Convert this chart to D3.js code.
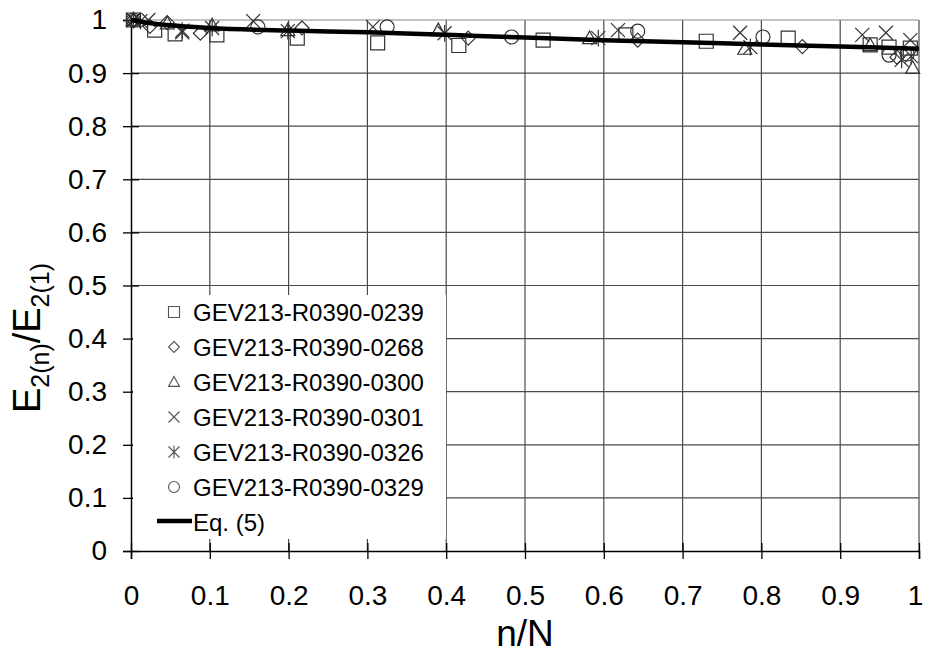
<!DOCTYPE html>
<html>
<head>
<meta charset="utf-8">
<script src="https://cdn.jsdelivr.net/npm/d3@7/dist/d3.min.js"></script>
<style>
  html, body { margin: 0; padding: 0; background: #fff; }
  svg text { font-family: "Liberation Sans", Arial, sans-serif; fill: #000; }
</style>
</head>
<body>
<svg id="chart" width="925" height="655"></svg>
<script>
// Specimen series: [n/N, E2(n)/E2(1)]
const seriesNames = [
  "GEV213-R0390-0239",
  "GEV213-R0390-0268",
  "GEV213-R0390-0300",
  "GEV213-R0390-0301",
  "GEV213-R0390-0326",
  "GEV213-R0390-0329"
];
const seriesSymbols = ["square", "diamond", "triangle", "cross", "asterisk", "circle"];

const s0239 = [[0.003,1.0],[0.030,0.981],[0.056,0.974],[0.109,0.972],[0.211,0.966],[0.313,0.957],
  [0.416,0.952],[0.523,0.962],[0.628,0.972],[0.730,0.960],[0.834,0.966],[0.938,0.953],[0.962,0.949],[0.989,0.947]];
const s0268 = [[0.003,1.0],[0.024,0.988],[0.046,0.995],[0.088,0.975],[0.217,0.985],[0.428,0.966],
  [0.643,0.962],[0.852,0.950],[0.972,0.930]];
const s0300 = [[0.003,1.0],[0.046,0.994],[0.103,0.990],[0.199,0.981],[0.390,0.981],[0.582,0.966],
  [0.779,0.946],[0.938,0.953],[0.992,0.910]];
const s0301 = [[0.003,1.0],[0.022,1.0],[0.065,0.977],[0.155,0.998],[0.307,0.987],[0.618,0.981],
  [0.773,0.976],[0.928,0.972],[0.958,0.976],[0.989,0.962]];
const s0326 = [[0.003,1.0],[0.012,0.998],[0.065,0.980],[0.103,0.985],[0.199,0.979],[0.398,0.975],
  [0.593,0.966],[0.786,0.949],[0.978,0.925],[0.990,0.932]];
const s0329 = [[0.003,1.0],[0.161,0.987],[0.325,0.987],[0.483,0.968],[0.643,0.979],[0.802,0.968],
  [0.962,0.934],[0.985,0.936]];
const seriesData = [s0239, s0268, s0300, s0301, s0326, s0329];

// Eq. (5) model curve
const eqX = [0, 0.02, 0.05, 0.1, 0.2, 0.3, 0.4, 0.5, 0.6, 0.7, 0.8, 0.9, 1.0];
const eqY = [1.0, 0.995, 0.990, 0.985, 0.980, 0.977, 0.972, 0.967, 0.962, 0.958, 0.954, 0.950, 0.946];
const eqLabel = "Eq. (5)";

const xTicks = [0, 0.1, 0.2, 0.3, 0.4, 0.5, 0.6, 0.7, 0.8, 0.9, 1];
const yTicks = [0, 0.1, 0.2, 0.3, 0.4, 0.5, 0.6, 0.7, 0.8, 0.9, 1];

const svg = d3.select("#chart");
const margin = { left: 131, right: 6, top: 20, bottom: 104 };
const W = 925, H = 655;
const x = d3.scaleLinear().domain([0, 1]).range([margin.left, W - margin.right]);
const y = d3.scaleLinear().domain([0, 1]).range([H - margin.bottom, margin.top]);

const grid = svg.append("g");
// vertical grid lines
grid.selectAll("line.v").data(xTicks.slice(1)).enter().append("line")
  .attr("x1", d => x(d)).attr("x2", d => x(d))
  .attr("y1", y(0)).attr("y2", y(1))
  .attr("stroke", "#4a4a4a").attr("stroke-width", 1.2);
// horizontal grid lines
grid.selectAll("line.h").data(yTicks.slice(1)).enter().append("line")
  .attr("x1", x(0)).attr("x2", x(1))
  .attr("y1", d => y(d)).attr("y2", d => y(d))
  .attr("stroke", d => d === 1 ? "#888" : "#4a4a4a").attr("stroke-width", 1.2);

// axes
const fmt = d => d === 0 ? "0" : d === 1 ? "1" : d3.format(".1f")(d);
const xAxis = svg.append("g").attr("transform", `translate(0,${y(0)})`)
  .call(d3.axisBottom(x).tickValues(xTicks).tickFormat(fmt).tickSize(8).tickPadding(26));
const yAxis = svg.append("g").attr("transform", `translate(${x(0)},0)`)
  .call(d3.axisLeft(y).tickValues(yTicks).tickFormat(fmt).tickSize(8).tickPadding(16));
[xAxis, yAxis].forEach(a => {
  a.select(".domain").attr("stroke", "#000").attr("stroke-width", 1.5);
  a.selectAll(".tick line").attr("stroke", "#000").attr("stroke-width", 1.3);
  a.selectAll(".tick text").attr("font-size", 28).attr("fill", "#000")
    .attr("font-family", "'Liberation Sans', Arial, sans-serif");
});
// keep the last x label inside the canvas edge
xAxis.selectAll(".tick text").filter(d => d === 1).attr("dx", -4);
// ticks crossing into the plot area
xAxis.selectAll(".tick").append("line").attr("y1", 0).attr("y2", -8)
  .attr("stroke", "#000").attr("stroke-width", 1.3);
yAxis.selectAll(".tick").append("line").attr("x1", 0).attr("x2", 8)
  .attr("stroke", "#000").attr("stroke-width", 1.3);

// axis titles
svg.append("text").attr("x", x(0.5)).attr("y", 646).attr("text-anchor", "middle")
  .attr("font-size", 37).text("n/N");
const yt = svg.append("text").attr("transform", "translate(40,338) rotate(-90)")
  .attr("text-anchor", "middle").attr("font-size", 38);
yt.append("tspan").text("E");
yt.append("tspan").attr("font-size", 25).attr("dy", 9).text("2(n)");
yt.append("tspan").attr("dy", -9).text("/E");
yt.append("tspan").attr("font-size", 25).attr("dy", 9).text("2(1)");

// marker shapes
function markerPath(sym, r) {
  const p = d3.path();
  switch (sym) {
    case "square": p.rect(-r, -r, 2 * r, 2 * r); break;
    case "diamond": p.moveTo(0, -r); p.lineTo(r, 0); p.lineTo(0, r); p.lineTo(-r, 0); p.closePath(); break;
    case "triangle": p.moveTo(0, -r); p.lineTo(r, r * 0.8); p.lineTo(-r, r * 0.8); p.closePath(); break;
    case "cross": p.moveTo(-r, -r); p.lineTo(r, r); p.moveTo(r, -r); p.lineTo(-r, r); break;
    case "asterisk": p.moveTo(-r, -r); p.lineTo(r, r); p.moveTo(r, -r); p.lineTo(-r, r);
      p.moveTo(0, -r * 1.2); p.lineTo(0, r * 1.2); break;
    case "circle": p.arc(0, 0, r, 0, 2 * Math.PI); break;
  }
  return p.toString();
}

// data points
const pts = svg.append("g");
seriesData.forEach((data, i) => {
  pts.selectAll(null).data(data).enter().append("path")
    .attr("transform", d => `translate(${x(d[0])},${y(d[1])})`)
    .attr("d", markerPath(seriesSymbols[i], 7))
    .attr("fill", "none").attr("stroke", "#333").attr("stroke-width", 1.2);
});

// Eq. (5) curve
const eqPts = eqX.map((v, i) => [v, eqY[i]]);
svg.append("path").datum(eqPts)
  .attr("d", d3.line().x(d => x(d[0])).y(d => y(d[1])).curve(d3.curveMonotoneX))
  .attr("fill", "none").attr("stroke", "#000").attr("stroke-width", 4.5);

// legend with white backing
const lg = svg.append("g");
lg.append("rect").attr("x", x(0) + 2).attr("y", 295).attr("width", 313).attr("height", 244).attr("fill", "#fff");
const rowY = i => 312 + i * 35;
seriesNames.forEach((name, i) => {
  lg.append("path").attr("transform", `translate(174,${rowY(i)})`)
    .attr("d", markerPath(seriesSymbols[i], 5.5))
    .attr("fill", "none").attr("stroke", "#555").attr("stroke-width", 1.1);
  lg.append("text").attr("x", 193).attr("y", rowY(i) + 8.5).attr("font-size", 24).text(name);
});
lg.append("line").attr("x1", 157).attr("x2", 192).attr("y1", rowY(6) - 1).attr("y2", rowY(6) - 1)
  .attr("stroke", "#000").attr("stroke-width", 4.5);
lg.append("text").attr("x", 193).attr("y", rowY(6) + 8.5).attr("font-size", 24).text(eqLabel);
</script>
</body>
</html>
